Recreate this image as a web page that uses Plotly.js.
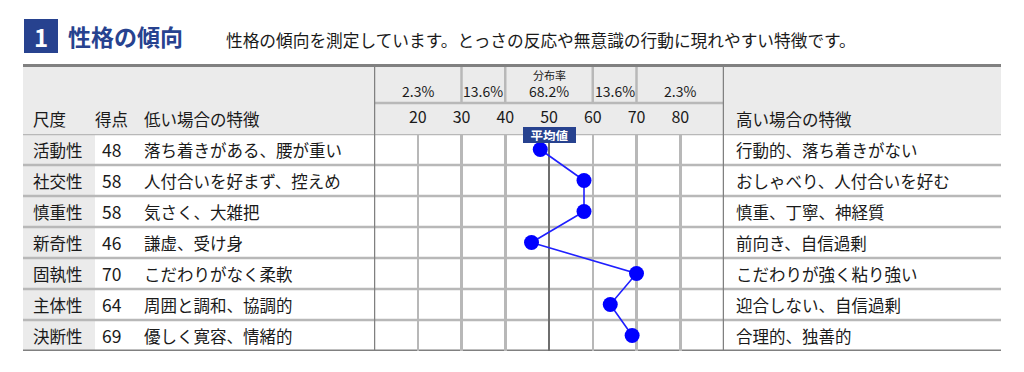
<!DOCTYPE html>
<html>
<head>
<meta charset="utf-8">
<script src="https://cdn.plot.ly/plotly-3.0.1.min.js"></script>
<style>
html,body{margin:0;padding:0;background:#fff;}
#chart{width:1024px;height:372px;}
</style>
</head>
<body>
<div id="chart"></div>
<script>
// ---- data ----
const scales = ['活動性','社交性','慎重性','新奇性','固執性','主体性','決断性'];
const scores = [48, 58, 58, 46, 70, 64, 69];
const lowTraits = ['落ち着きがある、腰が重い','人付合いを好まず、控えめ','気さく、大雑把','謙虚、受け身','こだわりがなく柔軟','周囲と調和、協調的','優しく寛容、情緒的'];
const highTraits = ['行動的、落ち着きがない','おしゃべり、人付合いを好む','慎重、丁寧、神経質','前向き、自信過剰','こだわりが強く粘り強い','迎合しない、自信過剰','合理的、独善的'];
const tickVals = [20, 30, 40, 50, 60, 70, 80];
const tickLabels = ['20','30','40','50','60','70','80'];
const distLabels = ['2.3%','13.6%','68.2%','13.6%','2.3%'];
const distCenters = [20, 35, 50, 65, 80];
const distBounds = [30, 40, 60, 70];
const meanValue = 50;
const axisMin = 10, axisMax = 90;

// ---- layout helpers ----
const W = 1024, H = 372;
const px = v => v / W;
const py = v => 1 - v / H;
const FONT = '"Noto Sans CJK JP", "Noto Sans", sans-serif';
const TXT = '#1a1a1a';
const BLUE = '#27428f';
const GRID = '#b8b8b8';
const DARK = '#808080';
const HEAD = '#ebebeb';

const tableL = 23, tableR = 1001, tableT = 65, headMid = 103, dataT = 134, dataB = 351;
const chartL = 374, chartR = 724;
const nRows = scales.length;

const shapes = [];
const annotations = [];

// header background
shapes.push({type:'rect', xref:'paper', yref:'paper', x0:px(tableL), x1:px(tableR), y0:py(dataT), y1:py(tableT), fillcolor:HEAD, line:{width:0}, layer:'below'});
// first column background
shapes.push({type:'rect', xref:'paper', yref:'paper', x0:px(tableL), x1:px(95), y0:py(dataB), y1:py(dataT), fillcolor:HEAD, line:{width:0}, layer:'below'});
// title box
shapes.push({type:'rect', xref:'paper', yref:'paper', x0:px(24), x1:px(58), y0:py(53), y1:py(19), fillcolor:BLUE, line:{width:0}, layer:'below'});

// row separators
for (let k = 0; k < nRows; k++) {
  shapes.push({type:'line', xref:'paper', yref:'y', x0:px(tableL), x1:px(tableR), y0:k-0.5, y1:k-0.5, line:{color:GRID, width:2.5}, layer:'between'});
}
// header separator within chart section
shapes.push({type:'line', xref:'x', yref:'paper', x0:axisMin, x1:axisMax, y0:py(headMid), y1:py(headMid), line:{color:GRID, width:2.5}, layer:'between'});
// distribution dividers
distBounds.forEach(b => {
  shapes.push({type:'line', xref:'x', yref:'paper', x0:b, x1:b, y0:py(headMid), y1:py(tableT), line:{color:GRID, width:2.5}, layer:'between'});
});
// mean line
shapes.push({type:'line', xref:'x', yref:'y', x0:meanValue, x1:meanValue, y0:-0.5, y1:nRows-0.5, line:{color:'#6e6e6e', width:2}, layer:'between'});
// chart section borders
[axisMin, axisMax].forEach(b => {
  shapes.push({type:'line', xref:'x', yref:'paper', x0:b, x1:b, y0:py(dataB), y1:py(tableT), line:{color:DARK, width:2.5}, layer:'between'});
});
// top & bottom borders
shapes.push({type:'line', xref:'paper', yref:'paper', x0:px(tableL), x1:px(tableR), y0:py(tableT+0.5), y1:py(tableT+0.5), line:{color:DARK, width:3}, layer:'between'});
shapes.push({type:'line', xref:'paper', yref:'y', x0:px(tableL), x1:px(tableR), y0:nRows-0.5, y1:nRows-0.5, line:{color:DARK, width:3}, layer:'between'});

// title texts
annotations.push({xref:'paper', yref:'paper', x:px(41), y:py(36.5), text:'<b>1</b>', showarrow:false, xanchor:'center', yanchor:'middle', font:{family:FONT, size:24, color:'#ffffff'}});
annotations.push({xref:'paper', yref:'paper', x:px(66), y:py(36), text:'<b>性格の傾向</b>', showarrow:false, xanchor:'left', yanchor:'middle', font:{family:FONT, size:23, color:BLUE}});
annotations.push({xref:'paper', yref:'paper', x:px(224), y:py(40), text:'性格の傾向を測定しています。とっさの反応や無意識の行動に現れやすい特徴です。', showarrow:false, xanchor:'left', yanchor:'middle', font:{family:FONT, size:16.7, color:TXT}});

// header labels
const headY = py(119);
[['尺度',31],['得点',93],['低い場合の特徴',142],['高い場合の特徴',734]].forEach(([t,x]) => {
  annotations.push({xref:'paper', yref:'paper', x:px(x), y:headY, text:t, showarrow:false, xanchor:'left', yanchor:'middle', font:{family:FONT, size:16.5, color:TXT}});
});

// distribution header
annotations.push({xref:'x', yref:'paper', x:meanValue, y:py(75), text:'分布率', showarrow:false, xanchor:'center', yanchor:'middle', font:{family:FONT, size:11, color:TXT}});
distLabels.forEach((t,i) => {
  annotations.push({xref:'x', yref:'paper', x:distCenters[i], y:py(90.5), text:t, showarrow:false, xanchor:'center', yanchor:'middle', font:{family:FONT, size:14, color:TXT}});
});

// mean label
annotations.push({xref:'x', yref:'y', x:meanValue, y:-0.5, yshift:-0.5, text:'<b>平均値</b>', showarrow:false, xanchor:'center', yanchor:'middle', bgcolor:BLUE, bordercolor:BLUE, borderwidth:1, borderpad:1, width:49, height:12, font:{family:FONT, size:12.5, color:'#ffffff'}});

// row texts
scales.forEach((s,i) => {
  annotations.push({xref:'paper', yref:'y', x:px(31), y:i, text:s, showarrow:false, xanchor:'left', yanchor:'middle', font:{family:FONT, size:16.5, color:TXT}});
  annotations.push({xref:'paper', yref:'y', x:px(100), y:i, text:String(scores[i]), showarrow:false, xanchor:'left', yanchor:'middle', font:{family:FONT, size:17.5, color:TXT}});
  annotations.push({xref:'paper', yref:'y', x:px(142), y:i, text:lowTraits[i], showarrow:false, xanchor:'left', yanchor:'middle', font:{family:FONT, size:16.5, color:TXT}});
  annotations.push({xref:'paper', yref:'y', x:px(734), y:i, text:highTraits[i], showarrow:false, xanchor:'left', yanchor:'middle', font:{family:FONT, size:16.5, color:TXT}});
});

const trace = {
  type:'scatter', mode:'lines+markers',
  x: scores, y: scales.map((_,i) => i),
  line:{color:'#1f1fff', width:1.6},
  marker:{color:'#0000ff', size:15},
  cliponaxis:false, hoverinfo:'skip', showlegend:false
};

const layout = {
  width:W, height:H,
  margin:{l:0, r:0, t:0, b:0, pad:0},
  paper_bgcolor:'#ffffff', plot_bgcolor:'rgba(0,0,0,0)',
  showlegend:false,
  xaxis:{
    domain:[px(chartL), px(chartR)], range:[axisMin, axisMax],
    side:'top', tickmode:'array', tickvals:tickVals, ticktext:tickLabels,
    ticks:'', showline:false, zeroline:false,
    showgrid:true, gridcolor:GRID, gridwidth:2.5,
    tickfont:{family:FONT, size:16, color:TXT},
    ticklabelstandoff:7, fixedrange:true
  },
  yaxis:{
    domain:[py(dataB), py(dataT)], range:[nRows-0.5, -0.5],
    showticklabels:false, showgrid:false, zeroline:false, showline:false, ticks:'', fixedrange:true
  },
  shapes: shapes,
  annotations: annotations
};

Plotly.newPlot('chart', [trace], layout, {displayModeBar:false, staticPlot:true});
</script>
</body>
</html>
